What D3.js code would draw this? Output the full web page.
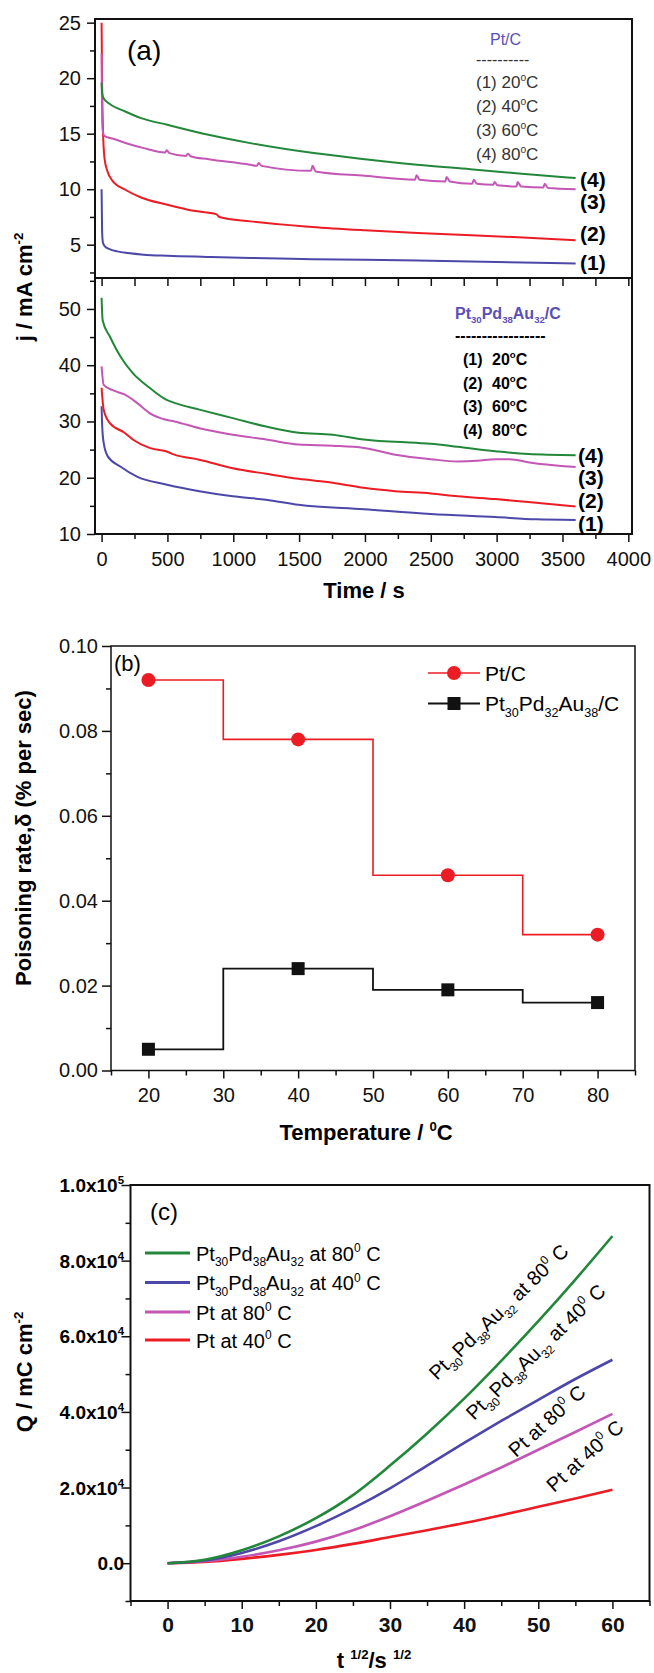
<!DOCTYPE html>
<html>
<head>
<meta charset="utf-8">
<script src="https://cdn.jsdelivr.net/npm/d3@7"></script>
<style>
  body { margin: 0; background: #fff; }
  svg { display: block; }
  text { white-space: pre; }
</style>
</head>
<body>
<svg id="chart" width="654" height="1673"></svg>
<script>
// ---- data ----
// panel (a) top: Pt/C chronoamperometry, [time s, j mA cm-2]
const ptC20 = [[0,10.0],[4,6.2],[10,5.2],[25,4.85],[60,4.6],[120,4.4],[200,4.25],[320,4.1],[500,4.0],[800,3.9],[1130,3.8],[1600,3.7],[2400,3.58],[3000,3.45],[3600,3.3]];
const ptC40 = [[0,25.0],[4,19.5],[10,15.5],[22,12.8],[45,11.6],[80,10.8],[180,9.95],[300,9.25],[500,8.6],[700,8.05],[870,7.75],[895,7.5],[1130,7.1],[1600,6.6],[2000,6.3],[2400,6.05],[3200,5.65],[3600,5.4]];
const ptC60 = [[0,22.2],[3,17.5],[9,15.3],[20,14.8],[100,14.5],[200,14.1],[320,13.7],[480,13.3],[495,13.5],[515,13.25],[640,13.0],[655,13.2],[680,12.95],[812,12.7],[1129,12.2],[1180,12.1],[1193,12.35],[1215,12.1],[1590,11.65],[1602,12.1],[1625,11.6],[2000,11.2],[2380,10.85],[2392,11.25],[2415,10.85],[2610,10.7],[2620,11.1],[2645,10.7],[2815,10.5],[2826,10.85],[2850,10.5],[2975,10.4],[2985,10.65],[3005,10.35],[3150,10.25],[3160,10.65],[3185,10.25],[3355,10.15],[3365,10.5],[3390,10.1],[3600,10.0]];
const ptC80 = [[0,19.6],[5,18.6],[15,18.2],[60,17.7],[180,17.0],[300,16.4],[500,15.8],[812,14.9],[1129,14.15],[1611,13.25],[2000,12.7],[2397,12.2],[2800,11.8],[3190,11.4],[3600,11.0]];
// panel (a) bottom: Pt30Pd38Au32/C
const alloy20 = [[0,32.7],[5,29.0],[16,26.2],[47,23.8],[142,22.0],[269,20.2],[490,18.8],[743,17.6],[996,16.7],[1249,16.1],[1496,15.2],[1992,14.4],[2500,13.55],[2990,13.0],[3300,12.6],[3600,12.5]];
const alloy40 = [[0,36.0],[16,32.1],[63,29.7],[174,28.0],[237,26.8],[364,25.3],[490,24.7],[553,24.1],[743,23.2],[996,21.7],[1249,20.7],[1496,19.8],[1755,19.1],[1992,18.2],[2230,17.6],[2500,17.2],[2704,16.7],[2990,16.2],[3240,15.7],[3600,14.9]];
const alloy60 = [[0,39.8],[16,36.5],[79,35.6],[174,34.8],[269,33.3],[364,31.5],[490,30.3],[553,30.0],[743,28.8],[996,27.65],[1249,26.8],[1496,25.9],[1755,25.7],[1992,25.3],[2230,24.1],[2500,23.3],[2704,22.9],[2850,23.0],[2990,23.3],[3100,23.3],[3250,22.7],[3600,21.9]];
const alloy80 = [[0,52.0],[8,48.0],[63,45.1],[142,41.6],[237,38.6],[364,36.0],[490,33.9],[553,33.3],[743,32.1],[996,30.6],[1249,29.1],[1496,28.0],[1755,27.65],[1992,26.8],[2388,26.2],[2500,26.05],[2704,25.5],[2990,24.7],[3240,24.2],[3600,24.0]];
const tempItems = ["(1)", "(2)", "(3)", "(4)"];
const tempValues = ["20", "40", "60", "80"];

// panel (b): poisoning rate
const temps = [20, 40, 60, 80];
const ptRate = [0.092, 0.078, 0.046, 0.032];
const alloyRate = [0.005, 0.024, 0.019, 0.016];

// panel (c): charge vs t^1/2
const sqrtT = [0, 5, 10, 15, 20, 25, 30, 35, 40, 45, 50, 55, 60];
const qAlloy80 = [0, 900, 3400, 7100, 11900, 18000, 25800, 34300, 43500, 53500, 64000, 75000, 86500];
const qAlloy40 = [0, 700, 2700, 5800, 9800, 14500, 19800, 25800, 31800, 37600, 43200, 48700, 53800];
const qPt80 = [0, 500, 1700, 3400, 5700, 8700, 12400, 16500, 20800, 25300, 30000, 34700, 39500];
const qPt40 = [0, 350, 1150, 2200, 3500, 5100, 6900, 8700, 10600, 12700, 14900, 17100, 19400];

const GREEN = "#23873a", MAGENTA = "#c456b6", RED = "#ec1c24", BLUE = "#4c47a9", PURPLE = "#5b4fb8";
const FONT = "'Liberation Sans', Arial, Helvetica, sans-serif";

const svg = d3.select("#chart").attr("font-family", FONT);

// text with ^{sup} and _{sub} markup
function rich(g, x, y, str, size, attrs = {}) {
  const t = g.append("text").attr("x", x).attr("y", y).attr("font-size", size);
  Object.entries(attrs).forEach(([k, v]) => t.attr(k, v));
  const parts = str.split(/(\^\{[^}]*\}|_\{[^}]*\})/).filter(s => s.length);
  let shift = 0;
  parts.forEach(p => {
    let txt = p, off = 0, fs = size;
    if (p.startsWith("^{")) { txt = p.slice(2, -1); off = -0.42 * size; fs = 0.6 * size; }
    else if (p.startsWith("_{")) { txt = p.slice(2, -1); off = 0.28 * size; fs = 0.6 * size; }
    t.append("tspan").attr("dy", off - shift).attr("font-size", fs).text(txt);
    shift = off;
  });
  return t;
}

function axis(g, gen, scale, major, minor, fmt, o = {}) {
  const mn = g.append("g").call(gen(scale).tickValues(minor).tickSize(o.minor ?? 5).tickFormat(""));
  const mj = g.append("g").call(gen(scale).tickValues(major).tickSize(o.major ?? 8).tickPadding(o.pad ?? 6).tickFormat(fmt || ""));
  [mn, mj].forEach(s => {
    s.select(".domain").remove();
    s.selectAll("line").attr("stroke", "#111").attr("stroke-width", o.sw ?? 1.5);
    s.attr("font-family", FONT).attr("font-size", o.fs ?? 20).attr("font-weight", o.fw ?? "normal");
    s.selectAll("text").attr("fill", "#111");
  });
  return mj;
}

// ================= panel (a) =================
const xA = d3.scaleLinear([-50, 4028], [95, 632]);
const yAtop = d3.scaleLinear([2, 25.33], [278, 19]);
const yAbot = d3.scaleLinear([10, 55.5], [534, 278]);
const gA = svg.append("g");

const lineTop = d3.line().x(d => xA(d[0])).y(d => yAtop(d[1])).curve(d3.curveMonotoneX);
const lineBot = d3.line().x(d => xA(d[0])).y(d => yAbot(d[1])).curve(d3.curveMonotoneX);
const colorsA = [BLUE, RED, MAGENTA, GREEN];
[ptC20, ptC40, ptC60, ptC80].forEach((s, i) =>
  gA.append("path").datum(s).attr("d", lineTop).attr("fill", "none").attr("stroke", colorsA[i]).attr("stroke-width", 2));
[alloy20, alloy40, alloy60, alloy80].forEach((s, i) =>
  gA.append("path").datum(s).attr("d", lineBot).attr("fill", "none").attr("stroke", colorsA[i]).attr("stroke-width", 2));

// axes
const xMajA = d3.range(0, 4001, 500), xMinA = d3.range(250, 4000, 500);
axis(gA.append("g").attr("transform", "translate(0,278)"), d3.axisBottom, xA, xMajA, xMinA, null, { major: 8, minor: 8 });
axis(gA.append("g").attr("transform", "translate(0,534)"), d3.axisBottom, xA, xMajA, xMinA, d3.format("d"), { pad: 10 });
axis(gA.append("g").attr("transform", "translate(95,0)"), d3.axisLeft, yAtop, [5, 10, 15, 20, 25], [2.5, 7.5, 12.5, 17.5, 22.5], d3.format("d"));
axis(gA.append("g").attr("transform", "translate(95,0)"), d3.axisLeft, yAbot, [10, 20, 30, 40, 50], [15, 25, 35, 45, 55], d3.format("d"));

gA.append("rect").attr("x", 95).attr("y", 19).attr("width", 537).attr("height", 515)
  .attr("fill", "none").attr("stroke", "#111").attr("stroke-width", 2);
gA.append("line").attr("x1", 95).attr("x2", 632).attr("y1", 278).attr("y2", 278).attr("stroke", "#111").attr("stroke-width", 2);

gA.append("text").attr("x", 127).attr("y", 60).attr("font-size", 28).text("(a)");

// top legend
gA.append("text").attr("x", 490).attr("y", 45).attr("font-size", 16).attr("fill", PURPLE).text("Pt/C");
gA.append("text").attr("x", 476).attr("y", 65).attr("font-size", 16).attr("fill", "#333").text("----------");
tempItems.forEach((t, i) =>
  rich(gA, 476, 88 + i * 24, `${t} ${tempValues[i]}^{o}C`, 17, { fill: "#333" }));

// bottom legend
rich(gA, 455, 319, "Pt_{30}Pd_{38}Au_{32}/C", 16, { fill: PURPLE, "font-weight": "bold" });
gA.append("text").attr("x", 455).attr("y", 341).attr("font-size", 16).attr("font-weight", "bold").text("-----------------");
tempItems.forEach((t, i) => {
  gA.append("text").attr("x", 463).attr("y", 365 + i * 23.7).attr("font-size", 16).attr("font-weight", "bold").text(t);
  rich(gA, 492, 365 + i * 23.7, `${tempValues[i]}^{o}C`, 16, { "font-weight": "bold" });
});

// curve labels
const topLabelY = [270, 241, 209, 187];
const botLabelY = [531, 508, 485, 463];
tempItems.forEach((t, i) => {
  gA.append("text").attr("x", 580).attr("y", topLabelY[i]).attr("font-size", 21).attr("font-weight", "bold").text(t);
  gA.append("text").attr("x", 578).attr("y", botLabelY[i]).attr("font-size", 21).attr("font-weight", "bold").text(t);
});

rich(gA, 0, 0, "j / mA cm^{-2}", 22, { "font-weight": "bold", "text-anchor": "middle", transform: "translate(32,287) rotate(-90)" });
gA.append("text").attr("x", 364).attr("y", 598).attr("font-size", 22).attr("font-weight", "bold")
  .attr("text-anchor", "middle").text("Time / s");

// ================= panel (b) =================
const xB = d3.scaleLinear([15, 85], [111, 635]);
const yB = d3.scaleLinear([0, 0.1], [1070.5, 646]);
const gB = svg.append("g");

axis(gB.append("g").attr("transform", "translate(0,1070.5)"), d3.axisBottom, xB, d3.range(20, 81, 10), d3.range(15, 86, 10), d3.format("d"), { pad: 9 });
axis(gB.append("g").attr("transform", "translate(111,0)"), d3.axisLeft, yB, d3.range(0, 0.1001, 0.02), d3.range(0.01, 0.1, 0.02), d3.format(".2f"), { major: 9, pad: 4 });
gB.append("rect").attr("x", 111).attr("y", 646).attr("width", 524).attr("height", 424.5)
  .attr("fill", "none").attr("stroke", "#111").attr("stroke-width", 1.5);

const stepLine = d3.line().x(d => xB(d[0])).y(d => yB(d[1])).curve(d3.curveStep);
const ptPts = temps.map((t, i) => [t, ptRate[i]]);
const alloyPts = temps.map((t, i) => [t, alloyRate[i]]);
gB.append("path").datum(ptPts).attr("d", stepLine).attr("fill", "none").attr("stroke", RED).attr("stroke-width", 1.6);
gB.append("path").datum(alloyPts).attr("d", stepLine).attr("fill", "none").attr("stroke", "#111").attr("stroke-width", 1.8);
gB.selectAll(".dot").data(ptPts).join("circle")
  .attr("cx", d => xB(d[0])).attr("cy", d => yB(d[1])).attr("r", 7).attr("fill", RED);
gB.selectAll(".sq").data(alloyPts).join("rect")
  .attr("x", d => xB(d[0]) - 6.5).attr("y", d => yB(d[1]) - 6.5).attr("width", 13).attr("height", 13).attr("fill", "#111");

gB.append("text").attr("x", 114).attr("y", 671).attr("font-size", 22).text("(b)");

// legend
gB.append("line").attr("x1", 428).attr("x2", 480).attr("y1", 673).attr("y2", 673).attr("stroke", RED).attr("stroke-width", 1.6);
gB.append("circle").attr("cx", 454).attr("cy", 673).attr("r", 7).attr("fill", RED);
gB.append("text").attr("x", 485).attr("y", 680.5).attr("font-size", 21).text("Pt/C");
gB.append("line").attr("x1", 428).attr("x2", 480).attr("y1", 703.5).attr("y2", 703.5).attr("stroke", "#111").attr("stroke-width", 1.8);
gB.append("rect").attr("x", 447.5).attr("y", 697).attr("width", 13).attr("height", 13).attr("fill", "#111");
rich(gB, 485, 711, "Pt_{30}Pd_{32}Au_{38}/C", 21);

gB.append("text").attr("font-size", 22).attr("font-weight", "bold").attr("text-anchor", "middle")
  .attr("transform", "translate(31,838) rotate(-90)").text("Poisoning rate,δ (% per sec)");
rich(gB, 366, 1140, "Temperature / ^{0}C", 22, { "font-weight": "bold", "text-anchor": "middle" });

// ================= panel (c) =================
const xC = d3.scaleLinear([-5, 65], [130.5, 649.5]);
const yC = d3.scaleLinear([-1e4, 1e5], [1601, 1185]);
const gC = svg.append("g");

axis(gC.append("g").attr("transform", "translate(0,1601)"), d3.axisBottom, xC, d3.range(0, 61, 10), d3.range(-5, 66, 10), d3.format("d"), { pad: 8, fs: 21, fw: "bold" });
axis(gC.append("g").attr("transform", "translate(130.5,0)"), d3.axisLeft, yC, d3.range(0, 100001, 20000), d3.range(-10000, 100000, 20000), null, { major: 9 });
gC.append("rect").attr("x", 130.5).attr("y", 1185).attr("width", 519).attr("height", 416)
  .attr("fill", "none").attr("stroke", "#111").attr("stroke-width", 2);

// y tick labels with powers of ten
d3.range(0, 100001, 20000).forEach(v => {
  const lbl = v === 0 ? "0.0" : (() => {
    const e = Math.floor(Math.log10(v));
    return `${(v / 10 ** e).toFixed(1)}x10^{${e}}`;
  })();
  rich(gC, 124, yC(v) + 7, lbl, 19, { "font-weight": "bold", "text-anchor": "end" });
});

const lineC = d3.line().x((d, i) => xC(sqrtT[i])).y(d => yC(d)).curve(d3.curveMonotoneX);
const seriesC = [qPt40, qPt80, qAlloy40, qAlloy80];
const colorsC = [RED, MAGENTA, BLUE, GREEN];
seriesC.forEach((s, i) =>
  gC.append("path").datum(s).attr("d", lineC).attr("fill", "none").attr("stroke", colorsC[i]).attr("stroke-width", 2.6));

gC.append("text").attr("x", 150).attr("y", 1220).attr("font-size", 24).text("(c)");

const legC = ["Pt_{30}Pd_{38}Au_{32} at 80^{0} C", "Pt_{30}Pd_{38}Au_{32} at 40^{0} C", "Pt at 80^{0} C", "Pt at 40^{0} C"];
const legColors = [GREEN, BLUE, MAGENTA, RED];
const legY = [1253, 1282.5, 1312, 1340];
legC.forEach((s, i) => {
  gC.append("line").attr("x1", 145).attr("x2", 190).attr("y1", legY[i]).attr("y2", legY[i]).attr("stroke", legColors[i]).attr("stroke-width", 3);
  rich(gC, 196, legY[i] + 7.5, s, 20);
});

// labels along the curves
const curveLbl = [
  { s: legC[0], x: 437, y: 1381, a: -44 },
  { s: legC[1], x: 474, y: 1421, a: -44 },
  { s: legC[2], x: 516, y: 1458, a: -42 },
  { s: legC[3], x: 554, y: 1493, a: -42 }
];
curveLbl.forEach(c => rich(gC, 0, 0, c.s, 20, { transform: `translate(${c.x},${c.y}) rotate(${c.a})` }));

rich(gC, 0, 0, "Q / mC cm^{-2}", 22, { "font-weight": "bold", "text-anchor": "middle", transform: "translate(32,1372) rotate(-90)" });
rich(gC, 374, 1668, "t ^{1/2}/s ^{1/2}", 22, { "font-weight": "bold", "text-anchor": "middle" });
</script>
</body>
</html>
